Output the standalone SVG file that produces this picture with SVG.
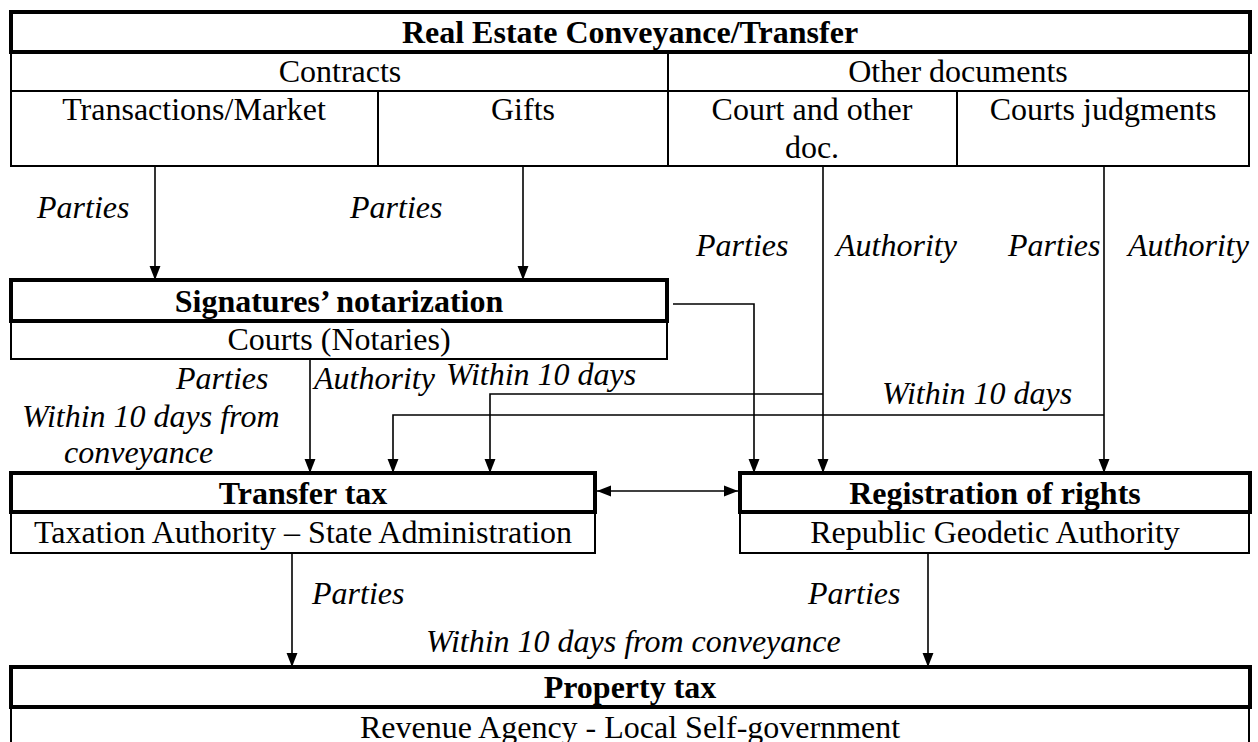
<svg xmlns="http://www.w3.org/2000/svg" width="1258" height="742" viewBox="0 0 1258 742">
<style>
text{font-family:"Liberation Serif","Times New Roman",serif;font-size:32px;fill:#000}
.b{font-weight:bold}
.i{font-style:italic}
.m{text-anchor:middle}
.thick{fill:none;stroke:#000;stroke-width:4}
.thin{fill:none;stroke:#000;stroke-width:2}
.c{fill:none;stroke:#000;stroke-width:1.6}
</style>
<defs>
<marker id="ah" markerWidth="14" markerHeight="18" refX="18" refY="7" orient="auto-start-reverse" markerUnits="userSpaceOnUse" viewBox="0 0 18 14">
<path d="M0,0 L18,7 L0,14 Z" fill="#000"/>
</marker>
</defs>
<rect width="1258" height="742" fill="#fff"/>

<g id="conveyance">
<rect class="thin" x="11" y="52" width="1238" height="39"/>
<rect class="thin" x="11" y="91" width="1238" height="75"/>
<line class="thin" x1="668" y1="52" x2="668" y2="166"/>
<line class="thin" x1="378" y1="91" x2="378" y2="166"/>
<line class="thin" x1="957" y1="91" x2="957" y2="166"/>
<rect class="thick" x="11" y="12" width="1239" height="40"/>
<text class="b m" x="630" y="43">Real Estate Conveyance/Transfer</text>
<text class="m" x="340" y="82">Contracts</text>
<text class="m" x="958" y="82">Other documents</text>
<text class="m" x="194" y="120">Transactions/Market</text>
<text class="m" x="523" y="120">Gifts</text>
<text class="m" x="812" y="120">Court and other</text>
<text class="m" x="812" y="158">doc.</text>
<text class="m" x="1103" y="120">Courts judgments</text>
</g>

<g id="notarization">
<rect class="thin" x="11" y="321" width="656" height="38"/>
<rect class="thick" x="11" y="280" width="656" height="41"/>
<text class="b m" x="339" y="312">Signatures’ notarization</text>
<text class="m" x="339" y="350">Courts (Notaries)</text>
</g>

<g id="transfer-tax">
<rect class="thin" x="11" y="512" width="584" height="41"/>
<rect class="thick" x="11" y="473" width="584" height="39"/>
<text class="b m" x="303" y="504">Transfer tax</text>
<text class="m" x="303" y="543">Taxation Authority – State Administration</text>
</g>

<g id="registration">
<rect class="thin" x="740" y="512" width="509" height="41"/>
<rect class="thick" x="740" y="473" width="510" height="39"/>
<text class="b m" x="995" y="504">Registration of rights</text>
<text class="m" x="995" y="543">Republic Geodetic Authority</text>
</g>

<g id="property-tax">
<rect class="thin" x="11" y="707" width="1238" height="45"/>
<rect class="thick" x="11" y="667" width="1239" height="40"/>
<text class="b m" x="630" y="698">Property tax</text>
<text class="m" x="630" y="738">Revenue Agency - Local Self-government</text>
</g>

<g id="connectors">
<path class="c" d="M155,166 V280" marker-end="url(#ah)"/>
<path class="c" d="M523,166 V280" marker-end="url(#ah)"/>
<path class="c" d="M823,166 V473" marker-end="url(#ah)"/>
<path class="c" d="M1104,166 V473" marker-end="url(#ah)"/>
<path class="c" d="M673,304 H754 V473" marker-end="url(#ah)"/>
<path class="c" d="M310,359 V473" marker-end="url(#ah)"/>
<path class="c" d="M823,394 H490 V473" marker-end="url(#ah)"/>
<path class="c" d="M1104,415 H393 V473" marker-end="url(#ah)"/>
<path class="c" d="M597,491 H738" marker-start="url(#ah)" marker-end="url(#ah)"/>
<path class="c" d="M292,553 V667" marker-end="url(#ah)"/>
<path class="c" d="M928,553 V667" marker-end="url(#ah)"/>
</g>

<g id="labels">
<text class="i" x="37" y="218">Parties</text>
<text class="i" x="350" y="218">Parties</text>
<text class="i" x="696" y="256">Parties</text>
<text class="i" x="836" y="256">Authority</text>
<text class="i" x="1008" y="256">Parties</text>
<text class="i" x="1128" y="256">Authority</text>
<text class="i" x="176" y="389">Parties</text>
<text class="i" x="314" y="389">Authority</text>
<text class="i" x="446" y="385">Within 10 days</text>
<text class="i" x="22" y="427">Within 10 days from</text>
<text class="i" x="64" y="463">conveyance</text>
<text class="i" x="882" y="404">Within 10 days</text>
<text class="i" x="312" y="604">Parties</text>
<text class="i" x="808" y="604">Parties</text>
<text class="i" x="426" y="652">Within 10 days from conveyance</text>
</g>
</svg>
